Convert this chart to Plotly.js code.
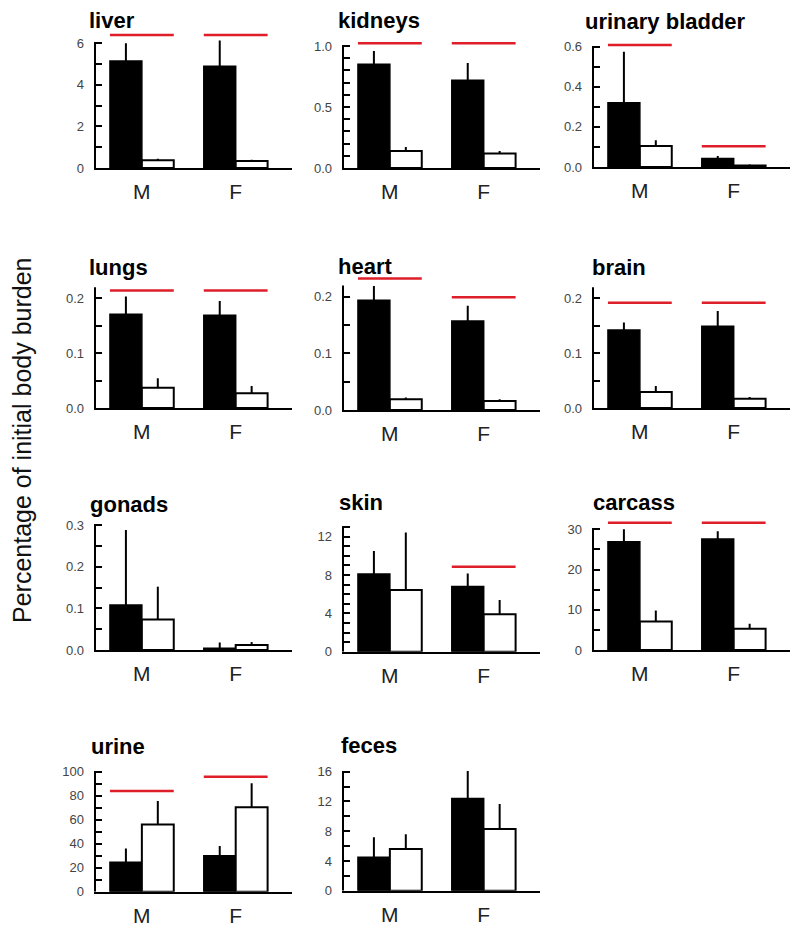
<!DOCTYPE html>
<html><head><meta charset="utf-8">
<script src="https://cdn.plot.ly/plotly-3.0.1.min.js"></script>
<style>html,body{margin:0;padding:0;background:#fff}</style>
</head><body><div id="chart" style="width:800px;height:929px"></div>
<script>
// ---------- data ----------
const organs = ['liver','kidneys','urinary bladder','lungs','heart','brain','gonads','skin','carcass','urine','feces'];
const sexes = ['M','F'];
const filledMean = [[5.15,4.9],[0.85,0.72],[0.32,0.042],[0.171,0.169],[0.194,0.157],[0.142,0.149],[0.108,0.004],[8.1,6.8],[26.9,27.6],[24.5,30],[4.5,12.4]];
const filledErr  = [[0.85,1.23],[0.11,0.14],[0.255,0.013],[0.032,0.026],[0.025,0.027],[0.014,0.028],[0.18,0.014],[2.4,1.35],[3.1,1.9],[11.5,8],[2.7,3.7]];
const openMean   = [[0.37,0.34],[0.14,0.118],[0.105,0.008],[0.037,0.027],[0.019,0.016],[0.029,0.017],[0.073,0.012],[6.45,3.9],[7.1,5.3],[56,70.3],[5.6,8.3]];
const openErr    = [[0.08,0.06],[0.033,0.022],[0.028,0.004],[0.017,0.013],[0.003,0.003],[0.011,0.003],[0.079,0.007],[6.0,1.5],[2.7,1.2],[19.5,20],[2.0,3.35]];
const sigLine    = [[6.4,6.4],[1.022,1.022],[0.608,0.103],[0.214,0.214],[0.232,0.199],[0.192,0.192],[null,null],[null,8.87],[31.6,31.6],[83.9,95.8],[null,null]];
const axisMax    = [6,1,0.6,0.22,0.22,0.22,0.3,13,30,100,16];
const majorStep  = [2,0.5,0.2,0.1,0.1,0.1,0.1,4,10,20,4];
const minorStep  = [1,0.1,0.1,0.05,0.05,0.05,0.05,1,5,10,2];
const tickFmt    = ['d','.1f','.1f','.1f','.1f','.1f','.1f','d','d','d','d'];
const yAxisTitle = 'Percentage of initial body burden';

// ---------- layout geometry (pixels) ----------
const W = 800, H = 929;
const FONT = 'Liberation Sans, Arial, Helvetica, sans-serif';
const colLeft = [94, 342, 592];
const plotW = 198;
const colOf = [0,1,2,0,1,2,0,1,2,0,1];
const basePx = [168,168,167,408,410,408,650,651.7,650,891.7,890.7];
const topPx  = [43.3,46,46.7,287.3,285.4,287.3,525,527.1,529.3,771.7,771.7];
const titleX = [87,336,583,87,336,590,88,337,591,89,339];
const titleBase = [28,28,29,275,274,275,512,510,510,754,753];
const xRange = [-0.51, 1.6];
const barW = 0.34;

const traces = [], shapes = [], annotations = [];
const layout = {
  width: W, height: H, autosize: false,
  margin: {l:0, r:0, t:0, b:0, pad:0},
  paper_bgcolor: '#fff', plot_bgcolor: 'rgba(0,0,0,0)',
  showlegend: false, barmode: 'overlay',
  font: {family: FONT, color: '#000'}
};

organs.forEach((name, i) => {
  const n = i + 1;
  const xa = n === 1 ? 'x' : 'x' + n;
  const ya = n === 1 ? 'y' : 'y' + n;
  const ppu = (basePx[i] - topPx[i]) / axisMax[i];
  const sigVals = sigLine[i].filter(v => v !== null);
  const hi = Math.max(axisMax[i],
    ...sigVals,
    ...filledMean[i].map((v,k) => v + filledErr[i][k]),
    ...openMean[i].map((v,k) => v + openErr[i][k])) * 1.04;
  const domTopPx = basePx[i] - hi * ppu;
  const left = colLeft[colOf[i]];

  layout['xaxis' + (n === 1 ? '' : n)] = {
    domain: [left / W, (left + plotW) / W],
    range: xRange, anchor: ya,
    showline: true, linewidth: 2, linecolor: '#000',
    ticks: '', tickvals: [0, 1], ticktext: sexes,
    tickfont: {size: 21, color: '#222', family: FONT},
    ticklabelstandoff: 4,
    showgrid: false, zeroline: false, fixedrange: true
  };
  layout['yaxis' + (n === 1 ? '' : n)] = {
    domain: [1 - basePx[i] / H, 1 - domTopPx / H],
    range: [0, hi], anchor: xa,
    showline: false, showgrid: false, zeroline: false,
    ticks: 'inside', ticklen: 8, tickwidth: 2, tickcolor: '#000',
    tick0: 0, dtick: majorStep[i], tickformat: tickFmt[i],
    minor: {tick0: 0, dtick: minorStep[i], ticks: 'inside', ticklen: 8, tickwidth: 2, tickcolor: '#000', showgrid: false},
    tickfont: {size: 13, color: '#444', family: FONT},
    ticklabelstandoff: 9, fixedrange: true
  };

  traces.push({
    type: 'bar', x: [0, 1], y: filledMean[i], xaxis: xa, yaxis: ya,
    offset: -barW, width: barW,
    marker: {color: '#000', line: {color: '#000', width: 1.5}},
    error_y: {type: 'data', symmetric: false, array: filledErr[i], arrayminus: [0, 0], color: '#000', thickness: 2, width: 0},
    hoverinfo: 'skip'
  });
  traces.push({
    type: 'bar', x: [0, 1], y: openMean[i], xaxis: xa, yaxis: ya,
    offset: 0, width: barW,
    marker: {color: '#fff', line: {color: '#000', width: 2}},
    error_y: {type: 'data', symmetric: false, array: openErr[i], arrayminus: [0, 0], color: '#000', thickness: 2, width: 0},
    hoverinfo: 'skip'
  });

  // y axis line ending at the top tick (half of it clipped at the plot edge)
  shapes.push({type: 'line', xref: xa, yref: ya, x0: xRange[0], x1: xRange[0], y0: 0, y1: axisMax[i],
    line: {color: '#000', width: 4}});
  // significance lines
  sigLine[i].forEach((v, k) => {
    if (v === null) return;
    shapes.push({type: 'line', xref: xa, yref: ya, x0: k - barW, x1: k + barW, y0: v, y1: v,
      line: {color: 'rgb(222,30,40)', width: 2.5}});
  });

  annotations.push({
    xref: 'paper', yref: 'paper', x: titleX[i] / W, y: 1 - (titleBase[i] - 8) / H,
    xanchor: 'left', yanchor: 'middle', showarrow: false, text: name,
    font: {size: 22, family: FONT, color: '#000', weight: 'bold'}
  });
});

annotations.push({
  xref: 'paper', yref: 'paper', x: 22 / W, y: 1 - 440 / H,
  xanchor: 'center', yanchor: 'middle', showarrow: false, textangle: -90,
  text: yAxisTitle, font: {size: 25, family: FONT, color: '#111'}
});

layout.shapes = shapes;
layout.annotations = annotations;

Plotly.newPlot('chart', traces, layout, {staticPlot: true, displayModeBar: false});
</script>
</body></html>
